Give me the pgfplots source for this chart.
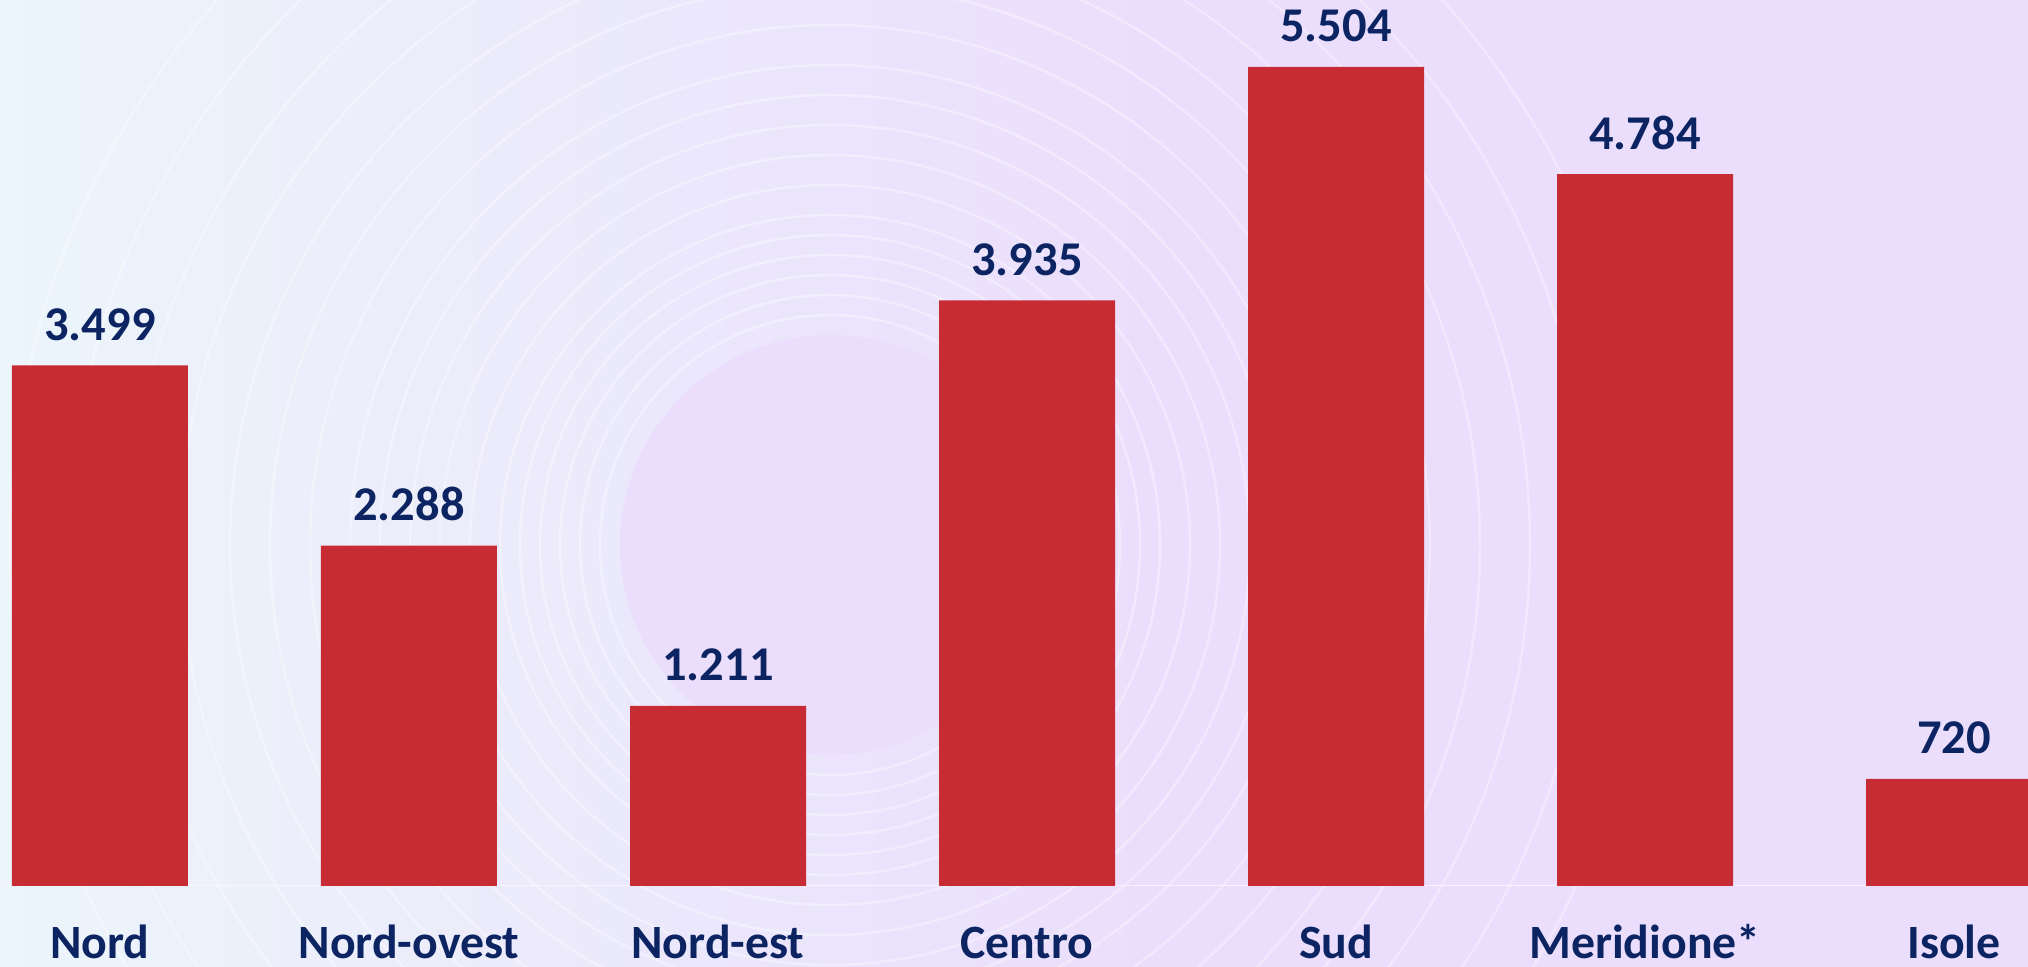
\documentclass[border=0pt]{standalone}
\usepackage{pgfplots}
\pgfplotsset{compat=1.18}
\usepackage{fontspec}
\setmainfont{Carlito}
\definecolor{bg}{RGB}{235,221,252}
\definecolor{bgl}{RGB}{236,245,251}
\definecolor{barred}{RGB}{199,44,52}
\definecolor{navy}{RGB}{12,37,98}
\begin{document}
\begin{tikzpicture}
\useasboundingbox (0,0) rectangle (202.8mm,96.7mm);
\fill[bg] (0,0) rectangle (202.8mm,96.7mm);
\shade[left color=bgl, right color=bg] (0,0) rectangle (120mm,96.7mm);
\fill[bg] (83mm,42.2mm) circle (21mm);
\foreach \r in {23,25,27,29,31,33,36,39,42,45,48,52,56,60,65,70,76,82}{
  \draw[white, opacity=0.35, line width=0.25mm] (83mm,42.2mm) circle (\r mm);
}
\begin{axis}[
  at={(0,8.1mm)}, anchor=south west,
  scale only axis, width=202.8mm, height=88.6mm,
  xmin=-0.3236, xmax=6.2395, ymin=0, ymax=5954,
  clip=true,
  axis line style={draw=none},
  ytick=\empty,
  xtick={0,1,2,3,4,5,6},
  xticklabels={Nord,Nord-ovest,Nord-est,Centro,Sud,Meridione*,Isole},
  major tick length=0pt,
  xticklabel style={anchor=base, inner sep=0pt, yshift=-7.3mm, text=navy,
    font=\fontsize{13.6}{16}\selectfont\bfseries},
  ybar, bar width=17.6mm, bar shift=0pt,
  nodes near coords={\pgfplotspointmeta},
  point meta=explicit symbolic,
  every node near coord/.style={anchor=base, inner sep=0pt, yshift=2.5mm,
    text=navy, font=\fontsize{13.8}{16}\selectfont\bfseries},
]
\draw[white!70!bg, line width=0.2mm] (axis cs:-0.33,0) -- (axis cs:6.3,0);
\addplot[fill=barred, draw=none] table[meta=lab] {
x y lab
0 3499 3.499
1 2288 2.288
2 1211 1.211
3 3935 3.935
4 5504 5.504
5 4784 4.784
6 720 720
};
\end{axis}
\end{tikzpicture}
\end{document}
